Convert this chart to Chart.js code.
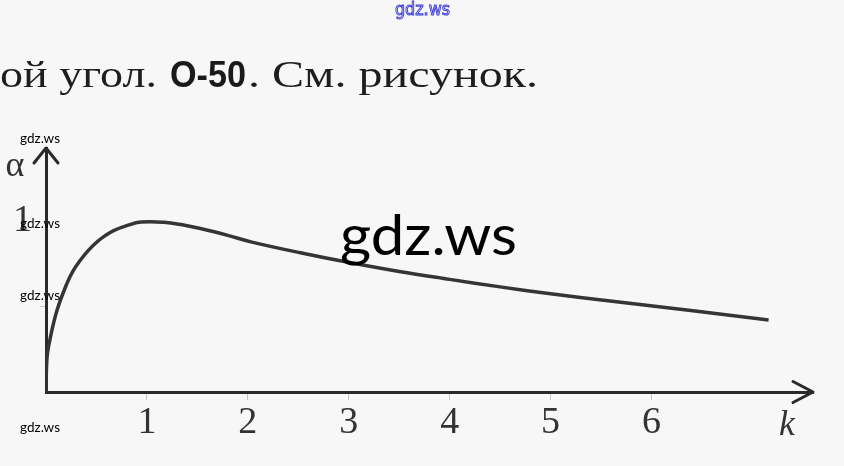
<!DOCTYPE html>
<html>
<head>
<meta charset="utf-8">
<script src="https://cdn.jsdelivr.net/npm/chart.js@4/dist/chart.umd.min.js"></script>
<style>
  html, body { margin: 0; padding: 0; background: #f7f7f7; }
  canvas { display: block; }
</style>
</head>
<body>
<canvas id="c" width="844" height="466" style="width:844px;height:466px"></canvas>
<script>
// ---- data ----
const kValues     = [0, 0.01, 0.04, 0.11, 0.21, 0.27, 0.34, 0.42, 0.51, 0.59, 0.67, 0.8, 0.94, 1.17, 1.35, 1.53, 1.8, 2.03, 2.52, 3.02, 3.5, 4.0, 4.5, 5.0, 5.59, 6.39, 7.16];
const alphaValues = [0, 0.20, 0.31, 0.48, 0.64, 0.712, 0.772, 0.83, 0.882, 0.918, 0.946, 0.975, 0.996, 0.995, 0.98, 0.958, 0.918, 0.88, 0.816, 0.757, 0.706, 0.66, 0.616, 0.576, 0.533, 0.477, 0.422];
const xTickValues = [1, 2, 3, 4, 5, 6];
const xTickLabels = ['1', '2', '3', '4', '5', '6'];
const yTickValues = [0.5, 1];
const yTickLabels = ['', '1'];
const xAxisName = 'k';
const yAxisName = 'α';
const headingParts = ['ой угол.', 'O-50', '. См. рисунок.'];
const watermark = 'gdz.ws';

function fitText(ctx, text, x, y, width, font, color) {
  ctx.save();
  ctx.font = font;
  ctx.fillStyle = color;
  ctx.textBaseline = 'alphabetic';
  ctx.textAlign = 'left';
  const w = ctx.measureText(text).width;
  ctx.translate(x, y);
  ctx.scale(width / w, 1);
  ctx.fillText(text, 0, 0);
  ctx.restore();
}

const decor = {
  id: 'decor',
  beforeDraw(chart) {
    const ctx = chart.ctx;
    ctx.save();
    ctx.fillStyle = '#f7f7f7';
    ctx.fillRect(0, 0, chart.width, chart.height);
    ctx.restore();
    // heading line of the page
    fitText(ctx, headingParts[0], 0, 87, 157, '37px "Liberation Serif"', '#1e1e1e');
    fitText(ctx, headingParts[1], 170, 87, 76, 'bold 37px "Liberation Sans"', '#1a1a1a');
    fitText(ctx, headingParts[2], 248, 87, 290, '37px "Liberation Serif"', '#1e1e1e');
  },
  afterDraw(chart) {
    const ctx = chart.ctx;
    const xs = chart.scales.x, ys = chart.scales.y;
    const x0 = xs.getPixelForValue(0), y0 = ys.getPixelForValue(0);
    const xEnd = xs.right, yEnd = ys.top;
    ctx.save();
    ctx.strokeStyle = '#2a2a2a';
    ctx.lineWidth = 3;
    ctx.lineCap = 'round';
    ctx.lineJoin = 'round';
    // x arrow head
    ctx.beginPath();
    ctx.moveTo(xEnd - 20, y0 - 10.5);
    ctx.lineTo(xEnd, y0);
    ctx.lineTo(xEnd - 20, y0 + 10.5);
    ctx.stroke();
    // y arrow head
    ctx.beginPath();
    ctx.moveTo(x0 - 12, yEnd + 15);
    ctx.lineTo(x0, yEnd);
    ctx.lineTo(x0 + 12, yEnd + 15);
    ctx.stroke();
    // axis names
    ctx.fillStyle = '#333';
    ctx.textAlign = 'center';
    ctx.textBaseline = 'alphabetic';
    ctx.font = '36px "Liberation Serif"';
    ctx.fillText(yAxisName, 15, 176);
    ctx.font = 'italic 36px "Liberation Serif"';
    ctx.fillText(xAxisName, 787, 435);
    ctx.restore();
    // watermarks
    fitText(ctx, watermark, 340, 255, 177, '56px Lato', '#000');
    [143, 228, 300, 432].forEach(y => fitText(ctx, watermark, 20, y, 40, '14px Lato', '#000'));
    ctx.save();
    ctx.font = '17px "DejaVu Sans"';
    const w = ctx.measureText(watermark).width;
    ctx.translate(395, 15);
    ctx.scale(55 / w, 1);
    ctx.fillStyle = '#ffffff';
    ctx.fillText(watermark, 0, 0);
    ctx.strokeStyle = '#3b3bd6';
    ctx.lineWidth = 1;
    ctx.strokeText(watermark, 0, 0);
    ctx.restore();
  }
};

new Chart(document.getElementById('c'), {
  type: 'line',
  data: {
    datasets: [{
      data: kValues.map((k, i) => ({ x: k, y: alphaValues[i] })),
      borderColor: '#353535',
      borderWidth: 3.5,
      pointRadius: 0,
      fill: false,
      tension: 0.4
    }]
  },
  options: {
    responsive: false,
    animation: false,
    devicePixelRatio: 1,
    layout: { padding: { left: 0, right: 31, top: 148, bottom: 0 } },
    plugins: { legend: { display: false }, tooltip: { enabled: false } },
    scales: {
      x: {
        type: 'linear', min: 0, max: 7.6,
        afterBuildTicks: s => { s.ticks = xTickValues.map(v => ({ value: v })); },
        afterFit: s => { s.height = 74; },
        ticks: {
          autoSkip: false, maxRotation: 0, padding: 0,
          callback: v => xTickLabels[xTickValues.indexOf(v)],
          font: { family: 'Liberation Serif', size: 38 },
          color: '#333'
        },
        grid: { drawOnChartArea: false, tickLength: 8, color: '#c4c4c4', lineWidth: 1 },
        border: { color: '#2a2a2a', width: 3 }
      },
      y: {
        type: 'linear', min: 0, max: 1.43,
        afterBuildTicks: s => { s.ticks = yTickValues.map(v => ({ value: v })); },
        afterFit: s => { s.width = 46; },
        ticks: {
          autoSkip: false, padding: 8,
          callback: v => yTickLabels[yTickValues.indexOf(v)],
          font: { family: 'Liberation Serif', size: 38 },
          color: '#333'
        },
        grid: {
          drawOnChartArea: false, tickLength: 6, lineWidth: 1,
          color: c => (c.tick && c.tick.value === 1) ? 'rgba(0,0,0,0)' : '#c4c4c4'
        },
        border: { color: '#2a2a2a', width: 3 }
      }
    }
  },
  plugins: [decor]
});
</script>
</body>
</html>
